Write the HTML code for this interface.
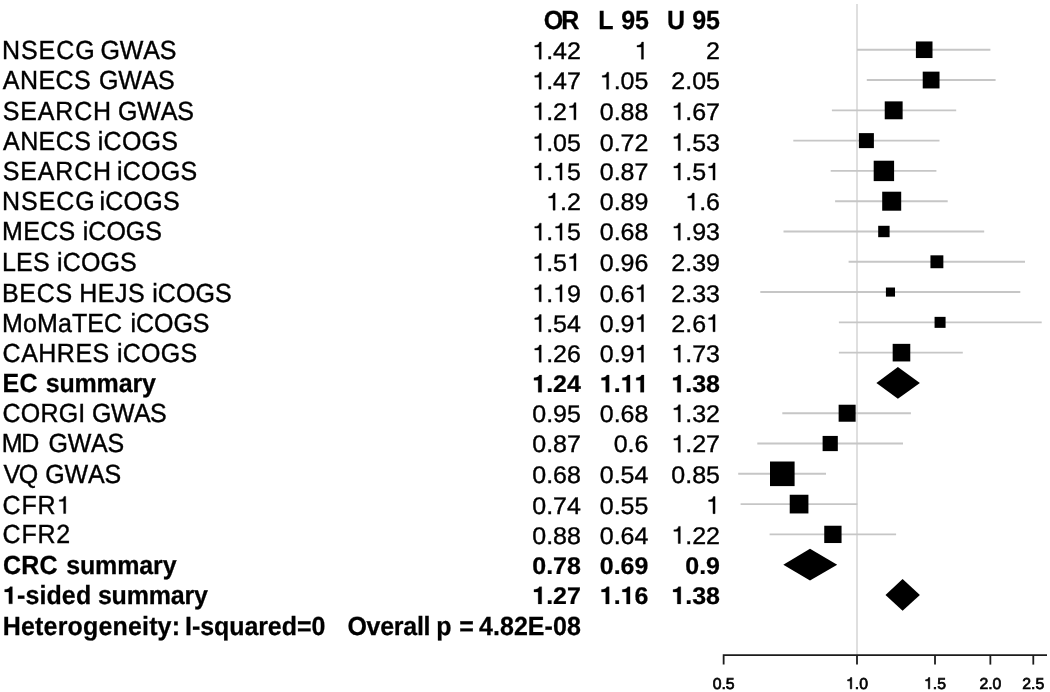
<!DOCTYPE html>
<html><head><meta charset="utf-8"><title>Forest plot</title>
<style>
html,body{margin:0;padding:0;background:#fff;}
body{width:1050px;height:692px;overflow:hidden;}
svg{display:block;will-change:transform;}
text{font-family:"Liberation Sans",sans-serif;font-size:25px;fill:#000;stroke:#000;stroke-width:0.38;font-kerning:none;text-rendering:geometricPrecision;white-space:pre;}
.b{font-weight:bold;stroke-width:0.25;}
.g{stroke:#000;stroke-width:0.38;vector-effect:non-scaling-stroke;}
.gb{stroke:#000;stroke-width:0.25;vector-effect:non-scaling-stroke;}
.e{text-anchor:end;}
.k{font-size:15.8px;stroke-width:0.7;}
.gk{stroke:#000;stroke-width:0.7;vector-effect:non-scaling-stroke;}
</style></head><body>
<svg width="1050" height="692" viewBox="0 0 1050 692">
<rect x="0" y="0" width="1050" height="692" fill="#fff"/>
<text class="b" style="letter-spacing:-2.042px" transform="translate(543.86,29.30) scale(1,1.05)">OR</text>
<text class="b" transform="translate(598.32,29.30) scale(1,1.05)">L</text>
<text class="b" style="letter-spacing:-0.125px" transform="translate(621.32,29.30) scale(1,1.05)">95</text>
<text class="b" transform="translate(666.89,29.30) scale(1,1.05)">U</text>
<text class="b" style="letter-spacing:-0.125px" transform="translate(692.32,29.30) scale(1,1.05)">95</text>
<!-- rows -->
<text style="letter-spacing:0.934px" transform="translate(1.94,59.10) scale(1,1.05)">NSECG</text>
<text style="letter-spacing:-0.156px" transform="translate(100.43,59.10) scale(1,1.05)">GWAS</text>
<path class="g" d="M359,0 L275,0 L275,505 L101,505 L101,568 C195,572 268,600 292,709 L359,709 Z" transform="translate(532.24,59.20) scale(0.02500,-0.02413)"/>
<text transform="translate(546.15,59.20) scale(1,0.965)">.42</text>
<path class="g" d="M359,0 L275,0 L275,505 L101,505 L101,568 C195,572 268,600 292,709 L359,709 Z" transform="translate(634.50,59.20) scale(0.02500,-0.02413)"/>
<text transform="translate(706.10,59.20) scale(1,0.965)">2</text>
<text style="letter-spacing:0.421px" transform="translate(2.84,89.23) scale(1,1.05)">ANECS</text>
<text style="letter-spacing:-0.222px" transform="translate(98.93,89.23) scale(1,1.05)">GWAS</text>
<path class="g" d="M359,0 L275,0 L275,505 L101,505 L101,568 C195,572 268,600 292,709 L359,709 Z" transform="translate(532.24,89.33) scale(0.02500,-0.02413)"/>
<text transform="translate(546.15,89.33) scale(1,0.965)">.47</text>
<path class="g" d="M359,0 L275,0 L275,505 L101,505 L101,568 C195,572 268,600 292,709 L359,709 Z" transform="translate(599.74,89.33) scale(0.02500,-0.02413)"/>
<text transform="translate(613.65,89.33) scale(1,0.965)">.05</text>
<text transform="translate(671.34,89.33) scale(1,0.965)">2.05</text>
<text style="letter-spacing:0.861px" transform="translate(2.65,119.67) scale(1,1.05)">SEARCH</text>
<text style="letter-spacing:-0.156px" transform="translate(118.03,119.67) scale(1,1.05)">GWAS</text>
<path class="g" d="M359,0 L275,0 L275,505 L101,505 L101,568 C195,572 268,600 292,709 L359,709 Z" transform="translate(532.24,119.77) scale(0.02500,-0.02413)"/>
<text transform="translate(546.15,119.77) scale(1,0.965)">.2</text>
<path class="g" d="M359,0 L275,0 L275,505 L101,505 L101,568 C195,572 268,600 292,709 L359,709 Z" transform="translate(567.00,119.77) scale(0.02500,-0.02413)"/>
<text transform="translate(599.74,119.77) scale(1,0.965)">0.88</text>
<path class="g" d="M359,0 L275,0 L275,505 L101,505 L101,568 C195,572 268,600 292,709 L359,709 Z" transform="translate(671.34,119.77) scale(0.02500,-0.02413)"/>
<text transform="translate(685.25,119.77) scale(1,0.965)">.67</text>
<text style="letter-spacing:0.421px" transform="translate(3.04,150.47) scale(1,1.05)">ANECS</text>
<text style="letter-spacing:0.241px" transform="translate(97.82,150.47) scale(1,1.05)">iCOGS</text>
<path class="g" d="M359,0 L275,0 L275,505 L101,505 L101,568 C195,572 268,600 292,709 L359,709 Z" transform="translate(532.24,150.57) scale(0.02500,-0.02413)"/>
<text transform="translate(546.15,150.57) scale(1,0.965)">.05</text>
<text transform="translate(599.74,150.57) scale(1,0.965)">0.72</text>
<path class="g" d="M359,0 L275,0 L275,505 L101,505 L101,568 C195,572 268,600 292,709 L359,709 Z" transform="translate(671.34,150.57) scale(0.02500,-0.02413)"/>
<text transform="translate(685.25,150.57) scale(1,0.965)">.53</text>
<text style="letter-spacing:0.861px" transform="translate(2.65,179.97) scale(1,1.05)">SEARCH</text>
<text style="letter-spacing:0.191px" transform="translate(117.12,179.97) scale(1,1.05)">iCOGS</text>
<path class="g" d="M359,0 L275,0 L275,505 L101,505 L101,568 C195,572 268,600 292,709 L359,709 Z" transform="translate(532.24,180.07) scale(0.02500,-0.02413)"/>
<text transform="translate(546.15,180.07) scale(1,0.965)">.</text>
<path class="g" d="M359,0 L275,0 L275,505 L101,505 L101,568 C195,572 268,600 292,709 L359,709 Z" transform="translate(553.09,180.07) scale(0.02500,-0.02413)"/>
<text transform="translate(567.00,180.07) scale(1,0.965)">5</text>
<text transform="translate(599.74,180.07) scale(1,0.965)">0.87</text>
<path class="g" d="M359,0 L275,0 L275,505 L101,505 L101,568 C195,572 268,600 292,709 L359,709 Z" transform="translate(671.34,180.07) scale(0.02500,-0.02413)"/>
<text transform="translate(685.25,180.07) scale(1,0.965)">.5</text>
<path class="g" d="M359,0 L275,0 L275,505 L101,505 L101,568 C195,572 268,600 292,709 L359,709 Z" transform="translate(706.10,180.07) scale(0.02500,-0.02413)"/>
<text style="letter-spacing:0.959px" transform="translate(2.04,210.06) scale(1,1.05)">NSECG</text>
<text style="letter-spacing:0.191px" transform="translate(99.62,210.06) scale(1,1.05)">iCOGS</text>
<path class="g" d="M359,0 L275,0 L275,505 L101,505 L101,568 C195,572 268,600 292,709 L359,709 Z" transform="translate(546.15,210.16) scale(0.02500,-0.02413)"/>
<text transform="translate(560.05,210.16) scale(1,0.965)">.2</text>
<text transform="translate(599.74,210.16) scale(1,0.965)">0.89</text>
<path class="g" d="M359,0 L275,0 L275,505 L101,505 L101,568 C195,572 268,600 292,709 L359,709 Z" transform="translate(685.25,210.16) scale(0.02500,-0.02413)"/>
<text transform="translate(699.15,210.16) scale(1,0.965)">.6</text>
<text style="letter-spacing:0.330px" transform="translate(2.04,240.16) scale(1,1.05)">MECS</text>
<text style="letter-spacing:-0.009px" transform="translate(82.82,240.16) scale(1,1.05)">iCOGS</text>
<path class="g" d="M359,0 L275,0 L275,505 L101,505 L101,568 C195,572 268,600 292,709 L359,709 Z" transform="translate(532.24,240.26) scale(0.02500,-0.02413)"/>
<text transform="translate(546.15,240.26) scale(1,0.965)">.</text>
<path class="g" d="M359,0 L275,0 L275,505 L101,505 L101,568 C195,572 268,600 292,709 L359,709 Z" transform="translate(553.09,240.26) scale(0.02500,-0.02413)"/>
<text transform="translate(567.00,240.26) scale(1,0.965)">5</text>
<text transform="translate(599.74,240.26) scale(1,0.965)">0.68</text>
<path class="g" d="M359,0 L275,0 L275,505 L101,505 L101,568 C195,572 268,600 292,709 L359,709 Z" transform="translate(671.34,240.26) scale(0.02500,-0.02413)"/>
<text transform="translate(685.25,240.26) scale(1,0.965)">.93</text>
<text style="letter-spacing:0.132px" transform="translate(2.04,270.57) scale(1,1.05)">LES</text>
<text style="letter-spacing:0.116px" transform="translate(57.12,270.57) scale(1,1.05)">iCOGS</text>
<path class="g" d="M359,0 L275,0 L275,505 L101,505 L101,568 C195,572 268,600 292,709 L359,709 Z" transform="translate(532.24,270.67) scale(0.02500,-0.02413)"/>
<text transform="translate(546.15,270.67) scale(1,0.965)">.5</text>
<path class="g" d="M359,0 L275,0 L275,505 L101,505 L101,568 C195,572 268,600 292,709 L359,709 Z" transform="translate(567.00,270.67) scale(0.02500,-0.02413)"/>
<text transform="translate(599.74,270.67) scale(1,0.965)">0.96</text>
<text transform="translate(671.34,270.67) scale(1,0.965)">2.39</text>
<text style="letter-spacing:0.647px" transform="translate(2.04,301.68) scale(1,1.05)">BECS</text>
<text style="letter-spacing:0.471px" transform="translate(79.24,301.68) scale(1,1.05)">HEJS</text>
<text style="letter-spacing:0.066px" transform="translate(152.22,301.68) scale(1,1.05)">iCOGS</text>
<path class="g" d="M359,0 L275,0 L275,505 L101,505 L101,568 C195,572 268,600 292,709 L359,709 Z" transform="translate(532.24,301.78) scale(0.02500,-0.02413)"/>
<text transform="translate(546.15,301.78) scale(1,0.965)">.</text>
<path class="g" d="M359,0 L275,0 L275,505 L101,505 L101,568 C195,572 268,600 292,709 L359,709 Z" transform="translate(553.09,301.78) scale(0.02500,-0.02413)"/>
<text transform="translate(567.00,301.78) scale(1,0.965)">9</text>
<text transform="translate(599.74,301.78) scale(1,0.965)">0.6</text>
<path class="g" d="M359,0 L275,0 L275,505 L101,505 L101,568 C195,572 268,600 292,709 L359,709 Z" transform="translate(634.50,301.78) scale(0.02500,-0.02413)"/>
<text transform="translate(671.34,301.78) scale(1,0.965)">2.33</text>
<text style="letter-spacing:0.111px" transform="translate(2.04,331.60) scale(1,1.05)">MoMaTEC</text>
<text style="letter-spacing:-0.084px" transform="translate(130.62,331.60) scale(1,1.05)">iCOGS</text>
<path class="g" d="M359,0 L275,0 L275,505 L101,505 L101,568 C195,572 268,600 292,709 L359,709 Z" transform="translate(532.24,331.70) scale(0.02500,-0.02413)"/>
<text transform="translate(546.15,331.70) scale(1,0.965)">.54</text>
<text transform="translate(599.74,331.70) scale(1,0.965)">0.9</text>
<path class="g" d="M359,0 L275,0 L275,505 L101,505 L101,568 C195,572 268,600 292,709 L359,709 Z" transform="translate(634.50,331.70) scale(0.02500,-0.02413)"/>
<text transform="translate(671.34,331.70) scale(1,0.965)">2.6</text>
<path class="g" d="M359,0 L275,0 L275,505 L101,505 L101,568 C195,572 268,600 292,709 L359,709 Z" transform="translate(706.10,331.70) scale(0.02500,-0.02413)"/>
<text style="letter-spacing:0.490px" transform="translate(2.62,362.08) scale(1,1.05)">CAHRES</text>
<text style="letter-spacing:0.291px" transform="translate(116.92,362.08) scale(1,1.05)">iCOGS</text>
<path class="g" d="M359,0 L275,0 L275,505 L101,505 L101,568 C195,572 268,600 292,709 L359,709 Z" transform="translate(532.24,362.18) scale(0.02500,-0.02413)"/>
<text transform="translate(546.15,362.18) scale(1,0.965)">.26</text>
<text transform="translate(599.74,362.18) scale(1,0.965)">0.9</text>
<path class="g" d="M359,0 L275,0 L275,505 L101,505 L101,568 C195,572 268,600 292,709 L359,709 Z" transform="translate(634.50,362.18) scale(0.02500,-0.02413)"/>
<path class="g" d="M359,0 L275,0 L275,505 L101,505 L101,568 C195,572 268,600 292,709 L359,709 Z" transform="translate(671.34,362.18) scale(0.02500,-0.02413)"/>
<text transform="translate(685.25,362.18) scale(1,0.965)">.73</text>
<text class="b" style="letter-spacing:0.247px" transform="translate(2.62,392.14) scale(1,1.05)">EC</text>
<text class="b" style="letter-spacing:-0.173px" transform="translate(45.71,392.14) scale(1,1.05)">summary</text>
<path class="gb" d="M378,0 L238,0 L238,493 L69,493 L69,597 C175,599 262,629 284,710 L378,710 Z" transform="translate(532.24,392.24) scale(0.02500,-0.02413)"/>
<text class="b" transform="translate(546.15,392.24) scale(1,0.965)">.24</text>
<path class="gb" d="M378,0 L238,0 L238,493 L69,493 L69,597 C175,599 262,629 284,710 L378,710 Z" transform="translate(599.74,392.24) scale(0.02500,-0.02413)"/>
<text class="b" transform="translate(613.65,392.24) scale(1,0.965)">.</text>
<path class="gb" d="M378,0 L238,0 L238,493 L69,493 L69,597 C175,599 262,629 284,710 L378,710 Z" transform="translate(620.59,392.24) scale(0.02500,-0.02413)"/>
<path class="gb" d="M378,0 L238,0 L238,493 L69,493 L69,597 C175,599 262,629 284,710 L378,710 Z" transform="translate(634.50,392.24) scale(0.02500,-0.02413)"/>
<path class="gb" d="M378,0 L238,0 L238,493 L69,493 L69,597 C175,599 262,629 284,710 L378,710 Z" transform="translate(671.34,392.24) scale(0.02500,-0.02413)"/>
<text class="b" transform="translate(685.25,392.24) scale(1,0.965)">.38</text>
<text style="letter-spacing:0.188px" transform="translate(2.62,421.85) scale(1,1.05)">CORGI</text>
<text style="letter-spacing:-0.556px" transform="translate(92.03,421.85) scale(1,1.05)">GWAS</text>
<text transform="translate(532.24,421.95) scale(1,0.965)">0.95</text>
<text transform="translate(599.74,421.95) scale(1,0.965)">0.68</text>
<path class="g" d="M359,0 L275,0 L275,505 L101,505 L101,568 C195,572 268,600 292,709 L359,709 Z" transform="translate(671.34,421.95) scale(0.02500,-0.02413)"/>
<text transform="translate(685.25,421.95) scale(1,0.965)">.32</text>
<text style="letter-spacing:-1.312px" transform="translate(1.84,452.19) scale(1,1.05)">MD</text>
<text style="letter-spacing:-0.222px" transform="translate(48.43,452.19) scale(1,1.05)">GWAS</text>
<text transform="translate(532.24,452.29) scale(1,0.965)">0.87</text>
<text transform="translate(613.65,452.29) scale(1,0.965)">0.6</text>
<path class="g" d="M359,0 L275,0 L275,505 L101,505 L101,568 C195,572 268,600 292,709 L359,709 Z" transform="translate(671.34,452.29) scale(0.02500,-0.02413)"/>
<text transform="translate(685.25,452.29) scale(1,0.965)">.27</text>
<text style="letter-spacing:-1.594px" transform="translate(3.58,483.09) scale(1,1.05)">VQ</text>
<text style="letter-spacing:-0.222px" transform="translate(45.33,483.09) scale(1,1.05)">GWAS</text>
<text transform="translate(532.24,483.19) scale(1,0.965)">0.68</text>
<text transform="translate(599.74,483.19) scale(1,0.965)">0.54</text>
<text transform="translate(671.34,483.19) scale(1,0.965)">0.85</text>
<text style="letter-spacing:0.755px" transform="translate(2.62,513.53) scale(1,1.05)">CFR</text>
<path class="g" d="M359,0 L275,0 L275,505 L101,505 L101,568 C195,572 268,600 292,709 L359,709 Z" transform="translate(56.76,513.53) scale(0.02500,-0.02413)"/>
<text transform="translate(532.24,513.63) scale(1,0.965)">0.74</text>
<text transform="translate(599.74,513.63) scale(1,0.965)">0.55</text>
<path class="g" d="M359,0 L275,0 L275,505 L101,505 L101,568 C195,572 268,600 292,709 L359,709 Z" transform="translate(706.10,513.63) scale(0.02500,-0.02413)"/>
<text style="letter-spacing:0.755px" transform="translate(2.62,543.42) scale(1,1.05)">CFR2</text>
<text transform="translate(532.24,543.52) scale(1,0.965)">0.88</text>
<text transform="translate(599.74,543.52) scale(1,0.965)">0.64</text>
<path class="g" d="M359,0 L275,0 L275,505 L101,505 L101,568 C195,572 268,600 292,709 L359,709 Z" transform="translate(671.34,543.52) scale(0.02500,-0.02413)"/>
<text transform="translate(685.25,543.52) scale(1,0.965)">.22</text>
<text class="b" style="letter-spacing:0.183px" transform="translate(3.06,573.83) scale(1,1.05)">CRC</text>
<text class="b" style="letter-spacing:-0.139px" transform="translate(66.21,573.83) scale(1,1.05)">summary</text>
<text class="b" transform="translate(532.24,573.93) scale(1,0.965)">0.78</text>
<text class="b" transform="translate(599.74,573.93) scale(1,0.965)">0.69</text>
<text class="b" transform="translate(685.25,573.93) scale(1,0.965)">0.9</text>
<path class="gb" d="M378,0 L238,0 L238,493 L69,493 L69,597 C175,599 262,629 284,710 L378,710 Z" transform="translate(2.92,603.82) scale(0.02500,-0.02413)"/>
<text class="b" style="letter-spacing:0.120px" transform="translate(16.94,603.82) scale(1,1.05)">-sided</text>
<text class="b" style="letter-spacing:-0.189px" transform="translate(97.91,603.82) scale(1,1.05)">summary</text>
<path class="gb" d="M378,0 L238,0 L238,493 L69,493 L69,597 C175,599 262,629 284,710 L378,710 Z" transform="translate(532.24,603.92) scale(0.02500,-0.02413)"/>
<text class="b" transform="translate(546.15,603.92) scale(1,0.965)">.27</text>
<path class="gb" d="M378,0 L238,0 L238,493 L69,493 L69,597 C175,599 262,629 284,710 L378,710 Z" transform="translate(599.74,603.92) scale(0.02500,-0.02413)"/>
<text class="b" transform="translate(613.65,603.92) scale(1,0.965)">.</text>
<path class="gb" d="M378,0 L238,0 L238,493 L69,493 L69,597 C175,599 262,629 284,710 L378,710 Z" transform="translate(620.59,603.92) scale(0.02500,-0.02413)"/>
<text class="b" transform="translate(634.50,603.92) scale(1,0.965)">6</text>
<path class="gb" d="M378,0 L238,0 L238,493 L69,493 L69,597 C175,599 262,629 284,710 L378,710 Z" transform="translate(671.34,603.92) scale(0.02500,-0.02413)"/>
<text class="b" transform="translate(685.25,603.92) scale(1,0.965)">.38</text>
<text class="b" style="letter-spacing:0.166px" transform="translate(2.82,634.90) scale(1,1.05)">Heterogeneity:</text>
<text class="b" style="letter-spacing:-0.071px" transform="translate(185.02,634.90) scale(1,1.05)">I-squared=0</text>
<text class="b" style="letter-spacing:-0.294px" transform="translate(347.46,634.90) scale(1,1.05)">Overall</text>
<text class="b" transform="translate(436.34,634.90) scale(1,1.05)">p</text>
<text class="b" transform="translate(459.25,634.90) scale(1,1.05)">=</text>
<text class="b" style="letter-spacing:0.072px" transform="translate(478.91,634.90) scale(1,1.05)">4.82E-08</text>
<!-- plot -->
<line x1="857" y1="4" x2="857" y2="655.2" stroke="#c8c8c8" stroke-width="1.15"/>
<line x1="857.00" y1="49.75" x2="990.40" y2="49.75" stroke="#c6c6c6" stroke-width="1.9"/>
<rect x="915.90" y="41.45" width="16.60" height="16.60" fill="#000"/>
<line x1="866.80" y1="80.04" x2="995.60" y2="80.04" stroke="#c6c6c6" stroke-width="1.9"/>
<rect x="922.72" y="71.64" width="16.80" height="16.80" fill="#000"/>
<line x1="831.90" y1="110.33" x2="956.20" y2="110.33" stroke="#c6c6c6" stroke-width="1.9"/>
<rect x="884.73" y="101.38" width="17.90" height="17.90" fill="#000"/>
<line x1="793.30" y1="140.62" x2="939.50" y2="140.62" stroke="#c6c6c6" stroke-width="1.9"/>
<rect x="858.89" y="133.12" width="15.00" height="15.00" fill="#000"/>
<line x1="830.70" y1="170.91" x2="936.40" y2="170.91" stroke="#c6c6c6" stroke-width="1.9"/>
<rect x="873.69" y="160.71" width="20.40" height="20.40" fill="#000"/>
<line x1="835.10" y1="201.20" x2="947.70" y2="201.20" stroke="#c6c6c6" stroke-width="1.9"/>
<rect x="882.20" y="191.70" width="19.00" height="19.00" fill="#000"/>
<line x1="783.50" y1="231.49" x2="984.20" y2="231.49" stroke="#c6c6c6" stroke-width="1.9"/>
<rect x="878.19" y="225.79" width="11.40" height="11.40" fill="#000"/>
<line x1="848.60" y1="261.78" x2="1025.00" y2="261.78" stroke="#c6c6c6" stroke-width="1.9"/>
<rect x="930.45" y="255.33" width="12.90" height="12.90" fill="#000"/>
<line x1="760.30" y1="292.07" x2="1020.30" y2="292.07" stroke="#c6c6c6" stroke-width="1.9"/>
<rect x="885.92" y="287.52" width="9.10" height="9.10" fill="#000"/>
<line x1="838.90" y1="322.36" x2="1041.70" y2="322.36" stroke="#c6c6c6" stroke-width="1.9"/>
<rect x="934.57" y="316.86" width="11.00" height="11.00" fill="#000"/>
<line x1="838.90" y1="352.65" x2="962.80" y2="352.65" stroke="#c6c6c6" stroke-width="1.9"/>
<rect x="892.67" y="343.85" width="17.60" height="17.60" fill="#000"/>
<polygon points="876.40,382.94 897.90,367.04 919.90,382.94 897.90,398.84" fill="#000"/>
<line x1="782.30" y1="413.23" x2="910.90" y2="413.23" stroke="#c6c6c6" stroke-width="1.9"/>
<rect x="838.63" y="404.73" width="17.00" height="17.00" fill="#000"/>
<line x1="757.30" y1="443.52" x2="903.00" y2="443.52" stroke="#c6c6c6" stroke-width="1.9"/>
<rect x="822.61" y="435.92" width="15.20" height="15.20" fill="#000"/>
<line x1="738.20" y1="473.81" x2="826.00" y2="473.81" stroke="#c6c6c6" stroke-width="1.9"/>
<rect x="770.00" y="461.51" width="24.60" height="24.60" fill="#000"/>
<line x1="740.60" y1="504.10" x2="857.40" y2="504.10" stroke="#c6c6c6" stroke-width="1.9"/>
<rect x="789.72" y="494.75" width="18.70" height="18.70" fill="#000"/>
<line x1="769.60" y1="534.39" x2="896.10" y2="534.39" stroke="#c6c6c6" stroke-width="1.9"/>
<rect x="824.25" y="525.74" width="17.30" height="17.30" fill="#000"/>
<polygon points="783.30,564.68 810.00,548.78 837.20,564.68 810.00,580.58" fill="#000"/>
<polygon points="885.50,594.97 902.60,579.07 919.90,594.97 902.60,610.87" fill="#000"/>
<path d="M723.64 664.60 V655.20 H1047" fill="none" stroke="#1c1c1c" stroke-width="1.8"/>
<line x1="857.00" y1="655.20" x2="857.00" y2="664.60" stroke="#1c1c1c" stroke-width="1.8"/>
<line x1="935.01" y1="655.20" x2="935.01" y2="664.60" stroke="#1c1c1c" stroke-width="1.8"/>
<line x1="990.36" y1="655.20" x2="990.36" y2="664.60" stroke="#1c1c1c" stroke-width="1.8"/>
<line x1="1033.29" y1="655.20" x2="1033.29" y2="664.60" stroke="#1c1c1c" stroke-width="1.8"/>
<text class="k" transform="translate(712.66,688.80) scale(1,1)">0.5</text>
<path class="gk" d="M359,0 L275,0 L275,505 L101,505 L101,568 C195,572 268,600 292,709 L359,709 Z" transform="translate(846.02,688.80) scale(0.01580,-0.01580)"/>
<text class="k" transform="translate(854.81,688.80) scale(1,1)">.0</text>
<path class="gk" d="M359,0 L275,0 L275,505 L101,505 L101,568 C195,572 268,600 292,709 L359,709 Z" transform="translate(924.03,688.80) scale(0.01580,-0.01580)"/>
<text class="k" transform="translate(932.82,688.80) scale(1,1)">.5</text>
<text class="k" transform="translate(979.38,688.80) scale(1,1)">2.0</text>
<text class="k" transform="translate(1022.31,688.80) scale(1,1)">2.5</text>
</svg>
</body></html>
